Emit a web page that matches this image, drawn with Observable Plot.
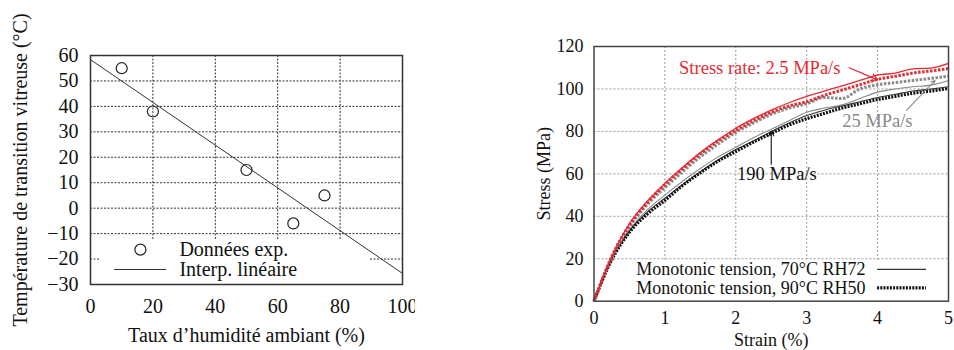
<!DOCTYPE html>
<html><head><meta charset="utf-8">
<script src="https://cdn.jsdelivr.net/npm/d3@7"></script>
<script src="https://cdn.jsdelivr.net/npm/@observablehq/plot@0.6"></script>
<style>
html,body{margin:0;padding:0;background:#fff;overflow:hidden;}
#wrap{position:relative;width:954px;height:350px;overflow:hidden;}
#left{position:absolute;left:0;top:0;}
#right{position:absolute;left:480px;top:0;}
</style></head><body>
<div id="wrap"><div id="left"></div><div id="right"></div></div>
<script>
// ---------- Left panel data ----------
const humidity = [10, 20, 50, 65, 75];
const tg = [55, 38, 15, -6, 5];
const leftXTicks = [0, 20, 40, 60, 80, 100];
const leftYTicks = [-30, -20, -10, 0, 10, 20, 30, 40, 50, 60];
const leftXLabel = "Taux d’humidité ambiant (%)";
const leftYLabel = "Température de transition vitreuse (°C)";
const leftLegendLabels = ["Données exp.", "Interp. linéaire"];

// ---------- Right panel data ----------
const strain = [0, 0.25, 0.5, 0.75, 1, 1.25, 1.5, 1.75, 2, 2.25, 2.5, 2.75, 3, 3.25, 3.5, 3.75, 4, 4.25, 4.5, 4.75, 5];
const redSolid    = [0, 21, 36.5, 47, 55.5, 63, 70, 76, 81.5, 86, 90, 93.5, 96.5, 99, 101.5, 104, 106.5, 107.5, 109.5, 109.8, 112];
const redDotted   = [0, 21, 36, 46.5, 55, 62.5, 69.5, 75.5, 80.5, 85, 89, 92, 94, 97, 99.5, 102, 104.5, 106, 107.5, 108.5, 109.6];
const greyDotted  = [0, 20.5, 35, 45.5, 53.5, 61, 68, 74, 79.5, 84, 88, 91, 93, 96, 95.5, 100, 102, 103, 104, 105, 106];
const greySolid   = [0, 20, 33.5, 43, 50, 56.5, 62.5, 68, 72.5, 77, 81, 85, 89, 91, 92.5, 95.5, 98.5, 100, 101, 101.8, 104];
const blackSolid  = [0, 19.8, 33, 42, 48.5, 55, 61, 66.5, 71.5, 75.5, 80, 84, 87.5, 90, 92, 94, 96, 97.5, 99, 100, 101];
const blackDotted = [0, 19.5, 32.5, 41, 47.5, 54.5, 60.5, 66, 70.5, 75, 79, 83, 86, 88.5, 91, 93, 95, 96.5, 98, 99, 100.2];
const rightXTicks = [0, 1, 2, 3, 4, 5];
const rightYTicks = [0, 20, 40, 60, 80, 100, 120];
const rightXLabel = "Strain (%)";
const rightYLabel = "Stress (MPa)";
const rightLegendLabels = ["Monotonic tension, 70°C RH72", "Monotonic tension, 90°C RH50"];
const rateLabels = ["Stress rate: 2.5 MPa/s", "25 MPa/s", "190 MPa/s"];

// ---------- styles ----------
const serif = "'Liberation Serif', 'Times New Roman', serif";
const RED = "#e62a32", GREY = "#8a8a8a";
const seriesStyle = [
  {name: "greySolid",   values: greySolid,   stroke: GREY,  width: 1.1, dash: null},
  {name: "blackSolid",  values: blackSolid,  stroke: "#333", width: 1.1, dash: null},
  {name: "blackDotted", values: blackDotted, stroke: "#111", width: 3.2, dash: "2,1.2"},
  {name: "greyDotted",  values: greyDotted,  stroke: GREY,  width: 3,   dash: "2.5,1.5"},
  {name: "redDotted",   values: redDotted,   stroke: RED,   width: 3,   dash: "2.5,1.5"},
  {name: "redSolid",    values: redSolid,    stroke: RED,   width: 1.3, dash: null}
];

// ---------- Left plot ----------
const pts = humidity.map((h, i) => ({h, t: tg[i]}));
const mx = d3.mean(humidity), my = d3.mean(tg);
const slope = d3.sum(pts, d => (d.h - mx) * (d.t - my)) / d3.sum(pts, d => (d.h - mx) ** 2);
const icpt = my - slope * mx;
const lxDom = d3.extent(leftXTicks);
const fit = lxDom.map(h => ({h, t: icpt + slope * h}));
const minus = d => d < 0 ? "\u2212" + Math.abs(d) : String(d);

const leftPlot = Plot.plot({
  width: 415, height: 350,
  marginLeft: 90, marginRight: 13, marginTop: 55, marginBottom: 66,
  style: {fontFamily: serif, fontSize: "20px", color: "#111", overflow: "hidden", background: "white", maxWidth: "none"},
  x: {domain: lxDom},
  y: {domain: d3.extent(leftYTicks)},
  marks: [
    Plot.ruleX(leftXTicks.slice(1, -1), {stroke: "#333", strokeDasharray: "2,1.5", strokeWidth: 1}),
    Plot.ruleY(leftYTicks.slice(1, -1), {stroke: "#333", strokeDasharray: "2,1.5", strokeWidth: 1}),
    Plot.rect([0], {x1: 3, x2: 89.5, y1: -30, y2: -12.5, fill: "white"}),
    Plot.line(fit, {x: "h", y: "t", stroke: "#333", strokeWidth: 1}),
    Plot.dot(pts, {x: "h", y: "t", r: 5.5, stroke: "#222", strokeWidth: 1.2, fill: "none"}),
    Plot.dot([0], {x: 16, y: -16.3, r: 5.5, stroke: "#222", strokeWidth: 1.2, fill: "none"}),
    Plot.ruleY([-24.1], {x1: 7.7, x2: 24.4, stroke: "#333", strokeWidth: 1}),
    Plot.text([leftLegendLabels[0]], {x: 28.5, y: -16.3, text: d => d, textAnchor: "start", fontSize: 20, fill: "#111"}),
    Plot.text([leftLegendLabels[1]], {x: 28.5, y: -24.1, text: d => d, textAnchor: "start", fontSize: 20, fill: "#111"}),
    Plot.axisX(leftXTicks, {tickSize: 0, tickPadding: 14, fontSize: 20, label: null}),
    Plot.axisY(leftYTicks, {tickSize: 0, tickPadding: 12, fontSize: 20, label: null, tickFormat: minus}),
    Plot.text([leftXLabel], {frameAnchor: "bottom", dy: 51, text: d => d, textAnchor: "middle", lineAnchor: "middle", fontSize: 20, fill: "#111"}),
    Plot.text([leftYLabel], {frameAnchor: "left", rotate: -90, dx: -70, text: d => d, textAnchor: "middle", lineAnchor: "middle", fontSize: 20, fill: "#111"}),
    Plot.frame({stroke: "#333", strokeWidth: 1.5})
  ]
});
document.getElementById("left").appendChild(leftPlot);

// ---------- Right plot ----------
const curveMarks = seriesStyle.map(s =>
  Plot.line(strain.map((x, i) => ({x, y: s.values[i]})), {
    x: "x", y: "y", stroke: s.stroke, strokeWidth: s.width,
    strokeDasharray: s.dash || undefined, curve: "monotone-x", strokeLinecap: "butt"
  })
);

const rightPlot = Plot.plot({
  width: 474, height: 350,
  marginLeft: 113.5, marginRight: 6, marginTop: 46, marginBottom: 49.3,
  style: {fontFamily: serif, fontSize: "18px", color: "#111", overflow: "visible", background: "white", maxWidth: "none"},
  x: {domain: d3.extent(rightXTicks)},
  y: {domain: d3.extent(rightYTicks)},
  marks: [
    Plot.ruleX(rightXTicks.slice(1, -1), {stroke: "#999", strokeDasharray: "2,2", strokeWidth: 1}),
    Plot.ruleY(rightYTicks.slice(1, -1), {stroke: "#999", strokeDasharray: "2,2", strokeWidth: 1}),
    Plot.rect([0], {x1: 0.45, x2: 5, y1: 0, y2: 19.3, fill: "white"}),
    ...curveMarks,
    Plot.text([rateLabels[0]], {x: 1.2, y: 110, text: d => d, textAnchor: "start", fontSize: 18.5, fill: RED}),
    Plot.arrow([0], {x1: 3.6, y1: 110, x2: 4.0, y2: 104.3, stroke: RED, strokeWidth: 1.3, headLength: 8}),
    Plot.text([rateLabels[1]], {x: 3.5, y: 85, text: d => d, textAnchor: "start", fontSize: 18.5, fill: GREY}),
    Plot.arrow([0], {x1: 4.41, y1: 90, x2: 4.81, y2: 104, stroke: GREY, strokeWidth: 1.1, headLength: 6}),
    Plot.text([rateLabels[2]], {x: 2.58, y: 60, text: d => d, fontSize: 18.5, fill: "#111"}),
    Plot.arrow([0], {x1: 2.5, y1: 64.5, x2: 2.5, y2: 80, stroke: "#111", strokeWidth: 1.1, headLength: 7}),
    Plot.text([rightLegendLabels[0]], {x: 3.83, y: 15, text: d => d, textAnchor: "end", fontSize: 18, fill: "#111"}),
    Plot.text([rightLegendLabels[1]], {x: 3.83, y: 6.3, text: d => d, textAnchor: "end", fontSize: 18, fill: "#111"}),
    Plot.ruleY([15], {x1: 4.0, x2: 4.69, stroke: "#333", strokeWidth: 1.1}),
    Plot.ruleY([6.3], {x1: 4.0, x2: 4.69, stroke: "#111", strokeWidth: 3.2, strokeDasharray: "2,1.2"}),
    Plot.axisX(rightXTicks, {tickSize: 0, tickPadding: 10, fontSize: 18, label: null}),
    Plot.axisY(rightYTicks, {tickSize: 0, tickPadding: 10.5, fontSize: 18, label: null}),
    Plot.text([rightXLabel], {frameAnchor: "bottom", dy: 39.5, text: d => d, textAnchor: "middle", lineAnchor: "middle", fontSize: 18, fill: "#111"}),
    Plot.text([rightYLabel], {frameAnchor: "left", rotate: -90, dx: -49.5, text: d => d, textAnchor: "middle", lineAnchor: "middle", fontSize: 18, fill: "#111"}),
    Plot.frame({stroke: "#444", strokeWidth: 1.5})
  ]
});
document.getElementById("right").appendChild(rightPlot);
</script>
</body></html>
